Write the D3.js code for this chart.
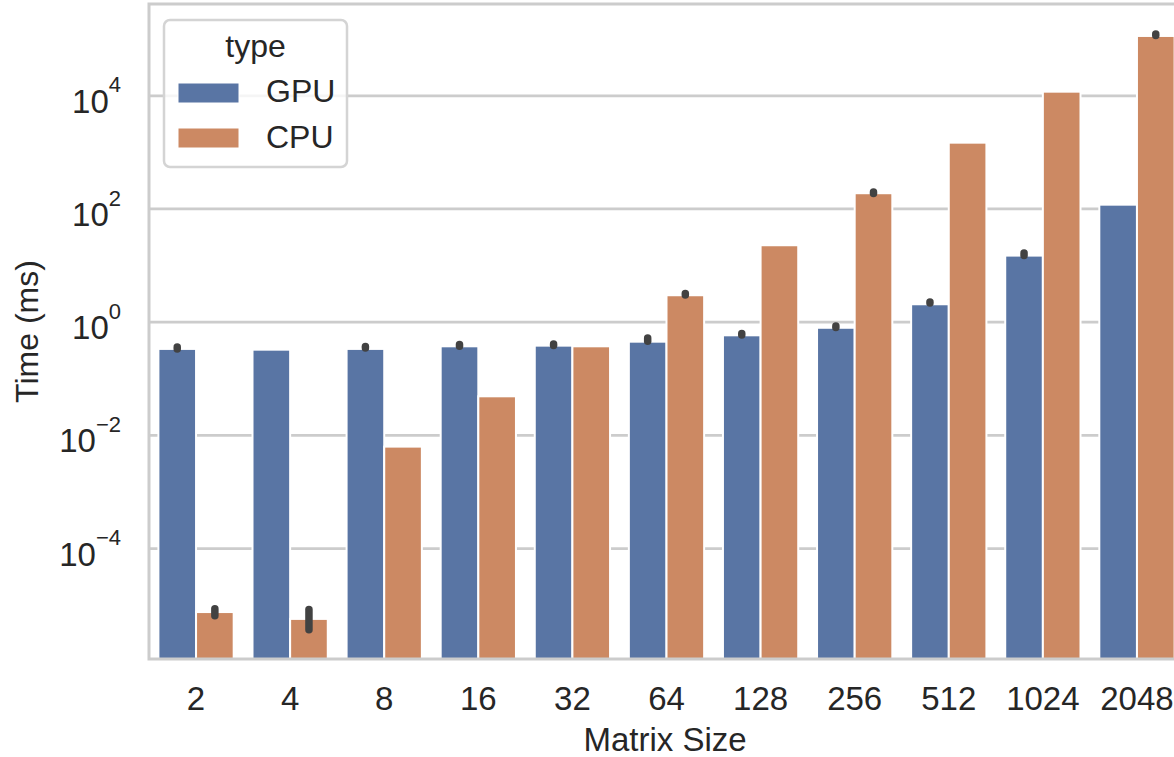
<!DOCTYPE html>
<html>
<head>
<meta charset="utf-8">
<script src="https://cdn.jsdelivr.net/npm/d3@7"></script>
<style>
  body { margin: 0; background: #fff; }
  svg text { font-family: "Liberation Sans", Arial, sans-serif; fill: #262626; }
</style>
</head>
<body>
<svg id="chart" width="1174" height="757"></svg>
<script>
// matrix sizes on the x axis
const sizes = ['2', '4', '8', '16', '32', '64', '128', '256', '512', '1024', '2048'];
const types = ['GPU', 'CPU'];

// mean time (ms) per size
const gpuTime = [0.33, 0.32, 0.33, 0.367, 0.377, 0.443, 0.574, 0.78, 2.03, 14.7, 116.7];
const cpuTime = [7.4e-6, 5.6e-6, 0.0062, 0.048, 0.367, 2.93, 22.4, 186, 1455, 11580, 111700];

// confidence interval ends, null where no bar is drawn
const gpuErrLo = [0.33, null, 0.343, 0.368, 0.379, 0.45, 0.582, 0.79, 2.14, 14.7, null];
const gpuErrHi = [0.357, null, 0.365, 0.397, 0.404, 0.515, 0.619, 0.839, 2.23, 16.4, null];
const cpuErrLo = [6.4e-6, 3.6e-6, null, null, null, 2.96, null, 184, null, null, 114000];
const cpuErrHi = [8.5e-6, 8.2e-6, null, null, null, 3.15, null, 195, null, null, 121000];

const yTicks = [1e-4, 1e-2, 1, 1e2, 1e4];
const yDomain = [1.096e-6, 4.1e5];

const colors = {GPU: '#5975a4', CPU: '#cc8963'};
const gridColor = '#cccccc';

const svg = d3.select('#chart');
const pLeft = 149, pRight = 1184, pTop = 4, pBottom = 659;

const x = d3.scaleBand().domain(sizes).range([pLeft, pRight]).paddingInner(0).paddingOuter(0);
const y = d3.scaleLog().domain(yDomain).range([pBottom, pTop]);
const hue = d3.scaleBand().domain(types).range([0, x.bandwidth() * 0.8]);
const offset = x.bandwidth() * 0.1;

// grid lines
svg.append('g')
    .attr('transform', `translate(${pLeft},0)`)
    .call(d3.axisLeft(y).tickValues(yTicks).tickSize(-(pRight - pLeft)).tickFormat(''))
    .call(g => g.select('.domain').remove())
    .call(g => g.selectAll('line').attr('stroke', gridColor).attr('stroke-width', 2.7));

// bars
const rows = [];
sizes.forEach(function(s, i) {
    rows.push({size: s, type: 'GPU', value: gpuTime[i], lo: gpuErrLo[i], hi: gpuErrHi[i]});
    rows.push({size: s, type: 'CPU', value: cpuTime[i], lo: cpuErrLo[i], hi: cpuErrHi[i]});
});

svg.append('g')
    .selectAll('rect')
    .data(rows)
    .enter()
    .append('rect')
    .attr('x', d => x(d.size) + offset + hue(d.type))
    .attr('y', d => y(d.value))
    .attr('width', hue.bandwidth())
    .attr('height', d => pBottom - y(d.value))
    .attr('fill', d => colors[d.type])
    .attr('stroke', '#fff')
    .attr('stroke-width', 2);

// error bars
svg.append('g')
    .selectAll('line')
    .data(rows.filter(d => d.lo !== null))
    .enter()
    .append('line')
    .attr('x1', d => x(d.size) + offset + hue(d.type) + hue.bandwidth() / 2)
    .attr('x2', d => x(d.size) + offset + hue(d.type) + hue.bandwidth() / 2)
    .attr('y1', d => y(d.lo))
    .attr('y2', d => y(d.hi))
    .attr('stroke', '#424242')
    .attr('stroke-width', 7.5)
    .attr('stroke-linecap', 'round');

// frame
svg.append('rect')
    .attr('x', pLeft).attr('y', pTop)
    .attr('width', pRight - pLeft).attr('height', pBottom - pTop)
    .attr('fill', 'none')
    .attr('stroke', gridColor)
    .attr('stroke-width', 3);

// x axis labels
svg.append('g')
    .attr('transform', `translate(0,${pBottom})`)
    .call(d3.axisBottom(x).tickSize(0))
    .call(g => g.select('.domain').remove())
    .call(g => g.selectAll('text')
        .attr('y', 51).attr('dy', null)
        .attr('font-size', 33).attr('fill', '#262626'));

// y axis labels as 10^n
svg.append('g')
    .attr('transform', `translate(${pLeft},0)`)
    .call(d3.axisLeft(y).tickValues(yTicks).tickSize(0).tickFormat(''))
    .call(g => g.select('.domain').remove())
    .call(g => g.selectAll('.tick text').each(function(d) {
        const t = d3.select(this)
            .attr('x', -28).attr('dy', null).attr('y', 17)
            .attr('text-anchor', 'end')
            .attr('font-size', 33).attr('fill', '#262626');
        const e = String(Math.round(Math.log10(d))).replace('-', '\u2212');
        t.append('tspan').text('10');
        t.append('tspan').attr('dy', -20.4).attr('font-size', 22).text(e);
    }));

// axis titles
svg.append('text')
    .attr('x', 665).attr('y', 751)
    .attr('text-anchor', 'middle')
    .attr('font-size', 33)
    .text('Matrix Size');

svg.append('text')
    .attr('transform', 'translate(38,331.5) rotate(-90)')
    .attr('text-anchor', 'middle')
    .attr('font-size', 32)
    .text('Time (ms)');

// legend
const legend = svg.append('g');
legend.append('rect')
    .attr('x', 164).attr('y', 20)
    .attr('width', 183).attr('height', 147)
    .attr('rx', 6)
    .attr('fill', '#fff').attr('fill-opacity', 0.8)
    .attr('stroke', '#d4d4d4').attr('stroke-width', 2.5);
legend.append('text')
    .attr('x', 255.5).attr('y', 57)
    .attr('text-anchor', 'middle')
    .attr('font-size', 32)
    .text('type');
types.forEach(function(t, i) {
    legend.append('rect')
        .attr('x', 178).attr('y', 83 + i * 45)
        .attr('width', 61).attr('height', 20)
        .attr('fill', colors[t])
        .attr('stroke', '#fff').attr('stroke-width', 1);
    legend.append('text')
        .attr('x', 266).attr('y', 102 + i * 45.5)
        .attr('font-size', 32)
        .text(t);
});
</script>
</body>
</html>
